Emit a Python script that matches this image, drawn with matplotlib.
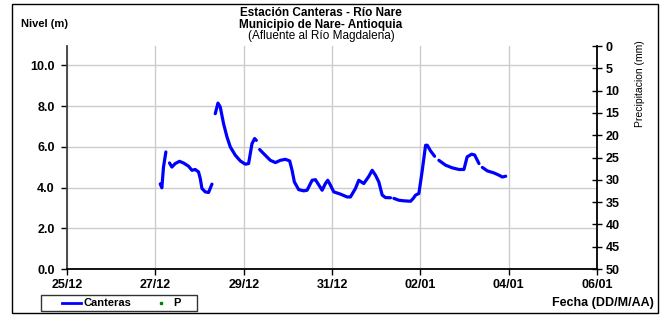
import numpy as np
import pandas as pd
import matplotlib
matplotlib.use("Agg")
import matplotlib.pyplot as plt
import matplotlib.dates as mdates
from matplotlib.lines import Line2D
from matplotlib.patches import Rectangle

plt.rcParams['font.family'] = ['Liberation Sans', 'DejaVu Sans']

# dias desde 25/12 (NaN = hueco en la serie)
dias = [2.109, 2.147, 2.184, 2.238, np.nan,
        2.320, 2.374, 2.449, 2.546, 2.637, 2.751, 2.828, 2.902, 2.977, 3.016,
        3.054, 3.129, 3.204, 3.281, np.nan,
        3.356, 3.417, 3.469, 3.544, 3.621, 3.696, 3.810, 3.923, 4.036, 4.111,
        4.188, 4.247, 4.286, np.nan,
        4.361, 4.451, 4.603, 4.717, 4.830, 4.943, 5.041, 5.095, 5.147, 5.245,
        5.358, 5.435, 5.549, 5.624, 5.776, 5.850, 5.903, 5.964, 6.039, 6.190,
        6.342, 6.417, 6.531, 6.605, 6.719, 6.832, 6.909, 6.984, 7.059, 7.136,
        7.211, 7.324, np.nan,
        7.400, 7.512, 7.626, 7.778, 7.839, 7.891, 7.966, 8.043, 8.118, 8.156,
        8.231, 8.322, np.nan,
        8.419, 8.571, 8.723, 8.873, 8.986, 9.059, 9.161, 9.229, 9.327, np.nan,
        9.404, 9.517, 9.667, 9.780, 9.857, 9.932]
nivel = [4.18, 3.99, 5.01, 5.75, np.nan,
         5.21, 5.01, 5.18, 5.29, 5.21, 5.05, 4.85, 4.89, 4.77, 4.45,
         3.96, 3.79, 3.76, 4.17, np.nan,
         7.63, 8.15, 7.96, 7.14, 6.49, 6.00, 5.59, 5.31, 5.15, 5.18,
         6.16, 6.41, 6.32, np.nan,
         5.87, 5.67, 5.34, 5.23, 5.34, 5.39, 5.31, 4.85, 4.28, 3.90,
         3.84, 3.87, 4.36, 4.39, 3.87, 4.20, 4.36, 4.12, 3.79, 3.68,
         3.54, 3.54, 3.96, 4.36, 4.20, 4.55, 4.85, 4.61, 4.28, 3.63,
         3.51, 3.50, np.nan,
         3.47, 3.38, 3.35, 3.33, 3.47, 3.63, 3.71, 4.85, 6.08, 6.08,
         5.80, 5.54, np.nan,
         5.34, 5.10, 4.97, 4.89, 4.89, 5.51, 5.64, 5.60, 5.18, np.nan,
         4.99, 4.82, 4.72, 4.61, 4.52, 4.56]
precip_fecha = []
precip_mm = []

inicio = pd.Timestamp('2010-12-25')
fin = pd.Timestamp('2011-01-06')

dias = np.array(dias)
x = mdates.date2num(inicio) + dias  # NaN se mantiene -> hueco

fig = plt.figure(figsize=(6.65, 3.18), dpi=100)
ax = fig.add_axes([0.1008, 0.154, 0.797, 0.701])
ax2 = ax.twinx()

ax.plot(x, nivel, color='#0000FF', linewidth=2.3, solid_capstyle='round')
ax2.plot(precip_fecha, precip_mm, '.', color='green', markersize=3)

ax.set_xlim(inicio, fin)
ax.set_ylim(0, 10.95)
ax2.set_ylim(50, 0)

ax.set_xticks(mdates.date2num(pd.date_range(inicio, fin, freq='2D')))
ax.xaxis.set_major_formatter(mdates.DateFormatter('%d/%m'))
ax.set_yticks(np.arange(0, 10.1, 2))
ax.yaxis.set_major_formatter(plt.FormatStrFormatter('%.1f'))
ax2.set_yticks(np.arange(0, 51, 5))

ax.grid(True, color='#cccccc', linewidth=1)
ax.set_axisbelow(True)

for a in (ax, ax2):
    a.spines['top'].set_visible(False)
ax2.spines['left'].set_visible(False)
ax2.spines['bottom'].set_visible(False)
ax.spines['left'].set_color('#404040')
ax.spines['left'].set_linewidth(1.3)
ax.spines['bottom'].set_linewidth(1.3)
ax.spines['right'].set_visible(False)
ax2.spines['right'].set_linewidth(1.3)

ax.tick_params(axis='y', direction='out', length=4, width=1, labelsize=9, pad=5)
ax.tick_params(axis='x', direction='out', length=4, width=1, labelsize=9, pad=3)
ax2.tick_params(axis='y', direction='inout', length=7, width=1, labelsize=9, pad=2.5)
for lab in ax.get_xticklabels() + ax.get_yticklabels() + ax2.get_yticklabels():
    lab.set_fontweight('bold')

# textos
cx = 321 / 665
fig.text(cx, 1 - 13.5 / 318, 'Estación Canteras - Río Nare', ha='center', va='center',
         fontsize=8.5, fontweight='bold')
fig.text(cx, 1 - 25 / 318, 'Municipio de Nare- Antioquia', ha='center', va='center',
         fontsize=8.5, fontweight='bold')
fig.text(cx, 1 - 36.5 / 318, '(Afluente al Río Magdalena)', ha='center', va='center',
         fontsize=8.5)
fig.text(21 / 665, 1 - 24 / 318, 'Nivel (m)', ha='left', va='center', fontsize=8, fontweight='bold')
fig.text(640 / 665, 1 - 84 / 318, 'Precipitacion (mm)', ha='center', va='center',
         rotation=90, fontsize=7.5)
fig.text(654 / 665, 1 - 303 / 318, 'Fecha (DD/M/AA)', ha='right', va='center',
         fontsize=9, fontweight='bold')

# leyenda
ly = 1 - 303 / 318
fig.patches.append(Rectangle((40.5 / 665, 1 - 311 / 318), 156.5 / 665, 16 / 318,
                             transform=fig.transFigure, fill=False, edgecolor='#333333',
                             linewidth=1))
fig.add_artist(Line2D([62 / 665, 81 / 665], [ly, ly], transform=fig.transFigure,
                      color='#0000FF', linewidth=2))
fig.text(83 / 665, ly, 'Canteras', ha='left', va='center', fontsize=8, fontweight='bold')
fig.add_artist(Line2D([161 / 665], [ly], transform=fig.transFigure, color='green',
                      marker='s', markersize=2, linestyle='none'))
fig.text(173 / 665, ly, 'P', ha='left', va='center', fontsize=8, fontweight='bold')

# marco exterior
fig.patches.append(Rectangle((12 / 665, 5 / 318), 646 / 665, 309 / 318, transform=fig.transFigure,
                             fill=False, edgecolor='black', linewidth=1))

fig.savefig('out.png', dpi=100)
